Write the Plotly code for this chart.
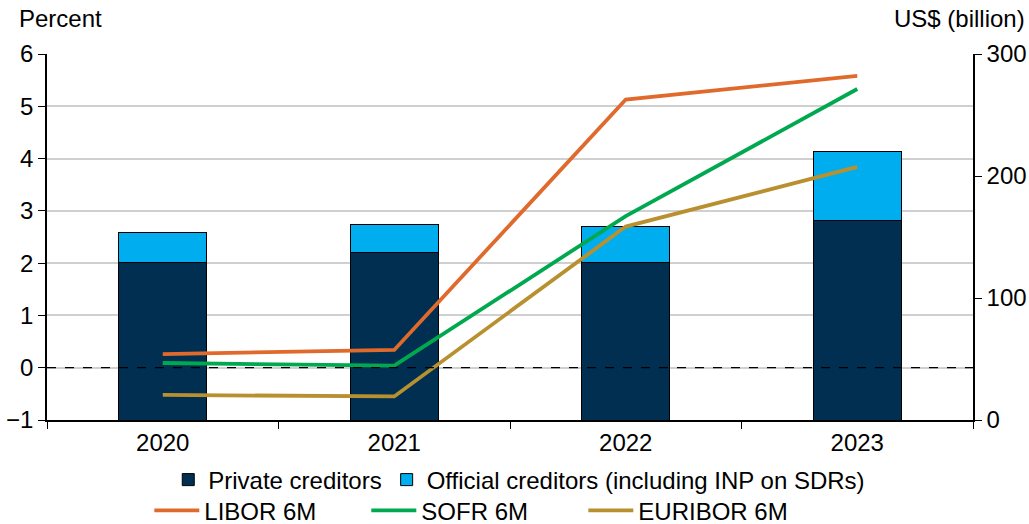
import plotly.graph_objects as go

years = ["2020", "2021", "2022", "2023"]
private = [129, 137, 129.5, 163.5]
official = [25, 23.5, 29.5, 56.5]
libor = [0.26, 0.34, 5.13, 5.58]
sofr = [0.09, 0.04, 2.90, 5.33]
euribor = [-0.52, -0.55, 2.70, 3.84]

FONT = "Liberation Sans, Arial, sans-serif"
fs = 24

fig = go.Figure()
fig.add_trace(go.Bar(x=years, y=private, name="Private creditors", marker=dict(color="#002F52", line=dict(color="#000000", width=1)), width=0.38, yaxis="y", legend="legend"))
fig.add_trace(go.Bar(x=years, y=official, name="Official creditors (including INP on SDRs)", marker=dict(color="#00AEEF", line=dict(color="#000000", width=1)), width=0.38, yaxis="y", legend="legend"))
fig.add_trace(go.Scatter(x=years, y=libor, name="LIBOR 6M", mode="lines", line=dict(color="#E06A2B", width=3.8), yaxis="y2", legend="legend2"))
fig.add_trace(go.Scatter(x=years, y=sofr, name="SOFR 6M", mode="lines", line=dict(color="#00A94F", width=3.8), yaxis="y2", legend="legend2"))
fig.add_trace(go.Scatter(x=years, y=euribor, name="EURIBOR 6M", mode="lines", line=dict(color="#B8902F", width=3.8), yaxis="y2", legend="legend2"))

fig.update_layout(
    barmode="stack",
    width=1029, height=524,
    margin=dict(l=47, r=56, t=54, b=104, autoexpand=False),
    paper_bgcolor="white", plot_bgcolor="white",
    font=dict(family=FONT, size=fs, color="#000000"),
    xaxis=dict(type="category", tickson="boundaries", ticks="outside", ticklen=7, tickcolor="#000", showline=True, linecolor="#000", linewidth=1.5, showgrid=False, tickfont=dict(size=fs), range=[-0.5, 3.5], automargin=False),
    yaxis=dict(side="right", range=[0, 300], tickvals=[0, 100, 200, 300], ticks="outside", ticklen=7, tickcolor="#000", showline=True, linecolor="#000", linewidth=1.5, showgrid=False, zeroline=False, tickfont=dict(size=fs), automargin=False),
    yaxis2=dict(overlaying="y", side="left", range=[-1, 6], ticks="outside", ticklen=7, tickcolor="#000", showline=True, linecolor="#000", linewidth=1.5, showgrid=True, gridcolor="#d0d0d0", gridwidth=1.5, zeroline=False, tickfont=dict(size=fs), tickvals=[-1, 0, 1, 2, 3, 4, 5, 6], ticktext=["\u22121", "0", "1", "2", "3", "4", "5", "6"], automargin=False),
    legend=dict(orientation="h", x=0.51, xanchor="center", y=-0.164, yanchor="middle", font=dict(size=fs), bgcolor="rgba(0,0,0,0)", traceorder="normal", itemwidth=30),
    legend2=dict(orientation="h", x=0.462, xanchor="center", y=-0.248, yanchor="middle", font=dict(size=fs), bgcolor="rgba(0,0,0,0)", traceorder="normal", entrywidth=157, entrywidthmode="pixels", itemwidth=45),
    showlegend=True,
)

fig.add_shape(type="line", xref="paper", x0=0, x1=1, yref="y2", y0=0, y1=0, line=dict(color="#000", width=1.2, dash="dash"), layer="above")

fig.add_annotation(text="Percent", xref="paper", yref="paper", x=-0.0324, y=1.0, xanchor="left", yanchor="bottom", yshift=20, showarrow=False, font=dict(size=fs))
fig.add_annotation(text="US$ (billion)", xref="paper", yref="paper", x=1.058, y=1.0, xanchor="right", yanchor="bottom", yshift=20, showarrow=False, font=dict(size=fs))

fig.write_html("out.html", config={"displayModeBar": False}, post_script="document.body.style.margin='0';document.body.style.overflow='hidden';")
